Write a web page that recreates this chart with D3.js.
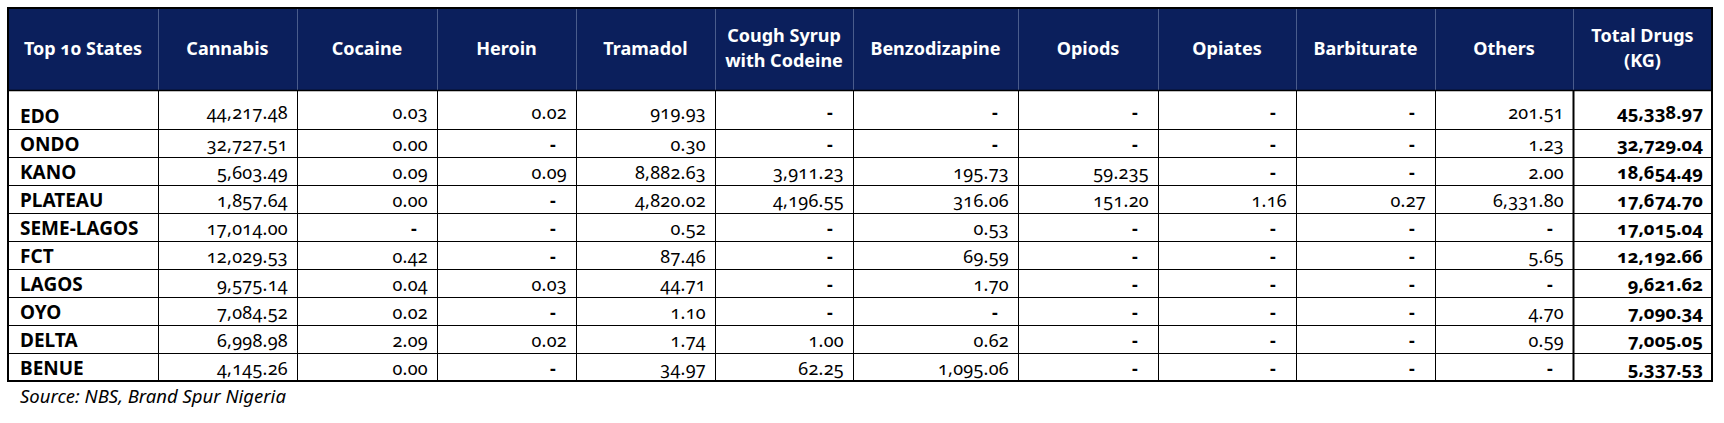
<!DOCTYPE html>
<html>
<head>
<meta charset="utf-8">
<script src="https://cdn.jsdelivr.net/npm/d3@7"></script>
<style>
  body { margin: 0; background: #fff; }
  svg text { font-family: "Noto Sans", Lato, sans-serif; font-feature-settings: "onum" 1; }
</style>
</head>
<body>
<div id="chart-area"></div>
<script>
// Data
var states = ["EDO", "ONDO", "KANO", "PLATEAU", "SEME-LAGOS", "FCT", "LAGOS", "OYO", "DELTA", "BENUE"];
var headers = ["Top 10 States", "Cannabis", "Cocaine", "Heroin", "Tramadol", "Cough Syrup|with Codeine",
	"Benzodizapine", "Opiods", "Opiates", "Barbiturate", "Others", "Total Drugs|(KG)"];

// null = "-"
var cannabis = [44217.48, 32727.51, 5603.49, 1857.64, 17014.00, 12029.53, 9575.14, 7084.52, 6998.98, 4145.26];
var cocaine = [0.03, 0.00, 0.09, 0.00, null, 0.42, 0.04, 0.02, 2.09, 0.00];
var heroin = [0.02, null, 0.09, null, null, null, 0.03, null, 0.02, null];
var tramadol = [919.93, 0.30, 8882.63, 4820.02, 0.52, 87.46, 44.71, 1.10, 1.74, 34.97];
var coughSyrup = [null, null, 3911.23, 4196.55, null, null, null, null, 1.00, 62.25];
var benzodizapine = [null, null, 195.73, 316.06, 0.53, 69.59, 1.70, null, 0.62, 1095.06];
var opiods = [null, null, 59.235, 151.20, null, null, null, null, null, null];
var opiates = [null, null, null, 1.16, null, null, null, null, null, null];
var barbiturate = [null, null, null, 0.27, null, null, null, null, null, null];
var others = [201.51, 1.23, 2.00, 6331.80, null, 5.65, null, 4.70, 0.59, null];
var totals = [45338.97, 32729.04, 18654.49, 17674.70, 17015.04, 12192.66, 9621.62, 7090.34, 7005.05, 5337.53];

var series = [cannabis, cocaine, heroin, tramadol, coughSyrup, benzodizapine, opiods, opiates, barbiturate, others, totals];

// Layout
var colWidths = [150, 139, 140, 139, 139, 138, 165, 140, 138, 139, 138, 139];
var tLeft = 8, tTop = 8, headerH = 82, firstRowH = 39;

var svg = d3.select("#chart-area")
	.append("svg")
	.attr("width", 1724)
	.attr("height", 423);

var edges = [tLeft];
colWidths.forEach(function (w, i) { edges.push(edges[i] + w); });
var tRight = edges[edges.length - 1];

// Rows: header bottom, then first (taller) row, then even rows
var headerBottom = tTop + headerH;
var y = d3.scaleLinear()
	.domain([1, states.length])
	.range([headerBottom + firstRowH, headerBottom + firstRowH + 28 * (states.length - 1)]);

function rowBottom(i) { return y(i + 1); }
var tableBottom = rowBottom(states.length - 1);

function fmt(v) {
	var s = String(v).split(".");
	var dec = Math.max(2, s[1] ? s[1].length : 0);
	return d3.format(",." + dec + "f")(v);
}

// Header
svg.append("rect")
	.attr("x", tLeft)
	.attr("y", tTop)
	.attr("width", tRight - tLeft)
	.attr("height", headerH)
	.attr("fill", "#0b1f5c");

svg.selectAll(".hsep")
	.data(edges.slice(1, -1))
	.enter()
	.append("line")
	.attr("class", "hsep")
	.attr("x1", function (d) { return d + 0.5; })
	.attr("x2", function (d) { return d + 0.5; })
	.attr("y1", tTop)
	.attr("y2", headerBottom)
	.attr("stroke", "#4a5c8c")
	.attr("stroke-width", 1);

var headerText = svg.selectAll(".htext")
	.data(headers)
	.enter()
	.append("text")
	.attr("class", "htext")
	.attr("x", function (d, i) { return (edges[i] + edges[i + 1]) / 2; })
	.attr("text-anchor", "middle")
	.attr("fill", "#fff")
	.attr("font-size", "18px")
	.attr("font-weight", "bold");

headerText.each(function (d) {
	var lines = d.split("|");
	var t = d3.select(this);
	var mid = tTop + headerH / 2 + 6;
	lines.forEach(function (ln, k) {
		t.append("tspan")
			.attr("x", t.attr("x"))
			.attr("y", lines.length === 1 ? mid : mid - 13 + k * 25)
			.text(ln);
	});
});

// Body grid
svg.selectAll(".rline")
	.data(states)
	.enter()
	.append("line")
	.attr("class", "rline")
	.attr("x1", tLeft)
	.attr("x2", tRight)
	.attr("y1", function (d, i) { return rowBottom(i) + 0.5; })
	.attr("y2", function (d, i) { return rowBottom(i) + 0.5; })
	.attr("stroke", "#000")
	.attr("stroke-width", 1);

svg.selectAll(".cline")
	.data(edges.slice(1, -1))
	.enter()
	.append("line")
	.attr("class", "cline")
	.attr("x1", function (d) { return d + 0.5; })
	.attr("x2", function (d) { return d + 0.5; })
	.attr("y1", headerBottom)
	.attr("y2", tableBottom)
	.attr("stroke", "#000")
	.attr("stroke-width", function (d, i) { return i === edges.length - 3 ? 2 : 1; });

// header bottom
svg.append("line")
	.attr("x1", tLeft)
	.attr("x2", tRight)
	.attr("y1", headerBottom + 0.5)
	.attr("y2", headerBottom + 0.5)
	.attr("stroke", "#000")
	.attr("stroke-width", 1.5);

// outer border
svg.append("rect")
	.attr("x", tLeft)
	.attr("y", tTop)
	.attr("width", tRight - tLeft)
	.attr("height", tableBottom - tTop)
	.attr("fill", "none")
	.attr("stroke", "#000")
	.attr("stroke-width", 2);

// State labels
svg.selectAll(".state")
	.data(states)
	.enter()
	.append("text")
	.attr("class", "state")
	.attr("x", tLeft + 12)
	.attr("y", function (d, i) { return rowBottom(i) - 6; })
	.attr("font-size", "19px")
	.attr("font-weight", "bold")
	.attr("fill", "#000")
	.text(function (d) { return d; });

// Values
series.forEach(function (vals, c) {
	var colRight = edges[c + 2];
	var isTotal = c === series.length - 1;
	svg.selectAll(".v" + c)
		.data(vals)
		.enter()
		.append("text")
		.attr("class", "v" + c)
		.attr("x", function (d) { return d === null ? colRight - 20 : colRight - 9; })
		.attr("y", function (d, i) { return rowBottom(i) - (i === 0 ? 10 : 6); })
		.attr("text-anchor", "end")
		.attr("font-size", isTotal ? "18.5px" : "18px")
		.attr("letter-spacing", isTotal ? "0" : "0.3px")
		.attr("font-weight", function (d) { return isTotal || d === null ? "bold" : "normal"; })
		.attr("fill", "#000")
		.text(function (d) { return d === null ? "-" : fmt(d); });
});

// Source
svg.append("text")
	.attr("x", 20)
	.attr("y", tableBottom + 22)
	.attr("font-size", "18.5px")
	.attr("font-style", "italic")
	.attr("fill", "#000")
	.text("Source: NBS, Brand Spur Nigeria");
</script>
</body>
</html>
